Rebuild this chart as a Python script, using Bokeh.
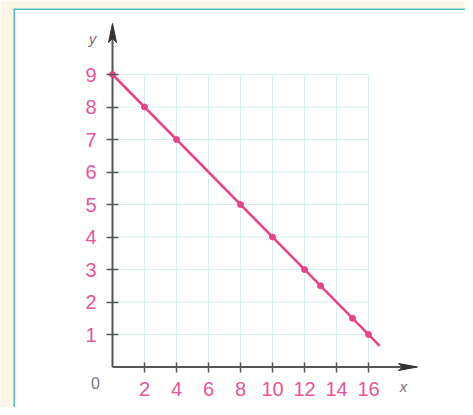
from bokeh.plotting import figure
from bokeh.models import Range1d, LinearAxis, FixedTicker, Span
from bokeh.core.properties import value
from bokeh.embed import file_html
from bokeh.resources import INLINE

# data
px = [0, 2, 4, 8, 10, 12, 13, 15, 16]
py = [9, 8, 7, 5, 4, 3, 2.5, 1.5, 1]
line_x = [0, 16.7]
line_y = [9, 0.65]
x_ticks = [2, 4, 6, 8, 10, 12, 14, 16]
y_ticks = [1, 2, 3, 4, 5, 6, 7, 8, 9]

PINK = "#e8428a"
LABEL_PINK = "#e6559a"
GRID = "#d6eff3"
AXIS = "#555555"
TEAL = "#4db6c6"
CREAM = "#fdf6e4"

X0, X1 = -6.1875, 22.0625
Y0, Y1 = -1.246, 11.0308

p = figure(width=465, height=407, output_backend="svg", toolbar_location=None,
           x_range=Range1d(X0, X1), y_range=Range1d(Y0, Y1),
           x_axis_type=None, y_axis_type=None,
           min_border_left=13, min_border_right=0, min_border_top=8, min_border_bottom=0)
p.background_fill_color = "white"
p.border_fill_color = CREAM
p.outline_line_color = None
p.xgrid.visible = False
p.ygrid.visible = False

# grid
p.segment(x0=x_ticks, y0=[0]*len(x_ticks), x1=x_ticks, y1=[max(y_ticks)]*len(x_ticks),
          line_color=GRID, line_width=1)
p.segment(x0=[0]*len(y_ticks), y0=y_ticks, x1=[max(x_ticks)]*len(y_ticks), y1=y_ticks,
          line_color=GRID, line_width=1)

# box borders
p.add_layout(Span(location=Y1, dimension="width", line_color=TEAL, line_width=3))
p.add_layout(Span(location=X0, dimension="height", line_color=TEAL, line_width=3))

# axes (ticks + labels)
xa = LinearAxis(fixed_location=0, ticker=FixedTicker(ticks=x_ticks))
xa.axis_line_color = None
xa.major_tick_line_color = AXIS
xa.major_tick_line_width = 1.5
xa.major_tick_in = 5
xa.major_tick_out = 5
xa.minor_tick_line_color = None
xa.major_label_standoff = 10
xa.major_label_text_color = LABEL_PINK
xa.major_label_text_font = "Liberation Sans"
xa.major_label_text_font_size = "20px"
p.add_layout(xa, "below")

ya = LinearAxis(fixed_location=0, ticker=FixedTicker(ticks=y_ticks))
ya.axis_line_color = None
ya.major_tick_line_color = AXIS
ya.major_tick_line_width = 1.5
ya.major_tick_in = 6
ya.major_tick_out = 6
ya.minor_tick_line_color = None
ya.major_label_standoff = 10
ya.major_label_text_color = LABEL_PINK
ya.major_label_text_font = "Liberation Sans"
ya.major_label_text_font_size = "20px"
p.add_layout(ya, "left")

# axis lines with slender arrowheads
p.segment(x0=[0, 0], y0=[0, 0], x1=[18.2, 0], y1=[0, 10.2], line_color=AXIS, line_width=2)
p.patches(xs=[[19.06, 17.875, 18.125, 17.875], [0, 0.25, 0, -0.25]],
          ys=[[0, 0.108, 0, -0.108], [10.57, 9.985, 10.11, 9.985]],
          fill_color="#333333", line_color="#333333", line_width=1)

# line and points
p.line(line_x, line_y, line_color=PINK, line_width=2.5)
p.scatter(px, py, size=6, fill_color=PINK, line_color=PINK)

# labels
p.text(x=[-1.06], y=[-0.48], text=["0"], text_color="#777777", text_font=value("Liberation Sans"),
       text_font_size="16px", text_align="center", text_baseline="middle")
p.text(x=[18.19], y=[-0.6], text=["x"], text_color="#777777", text_font=value("Liberation Sans"),
       text_font_size="15px", text_font_style="italic", text_align="center", text_baseline="middle")
p.text(x=[-1.25], y=[10.1], text=["y"], text_color="#777777", text_font=value("Liberation Sans"),
       text_font_size="15px", text_font_style="italic", text_align="center", text_baseline="middle")

open("out.html", "w").write(file_html(p, INLINE))
